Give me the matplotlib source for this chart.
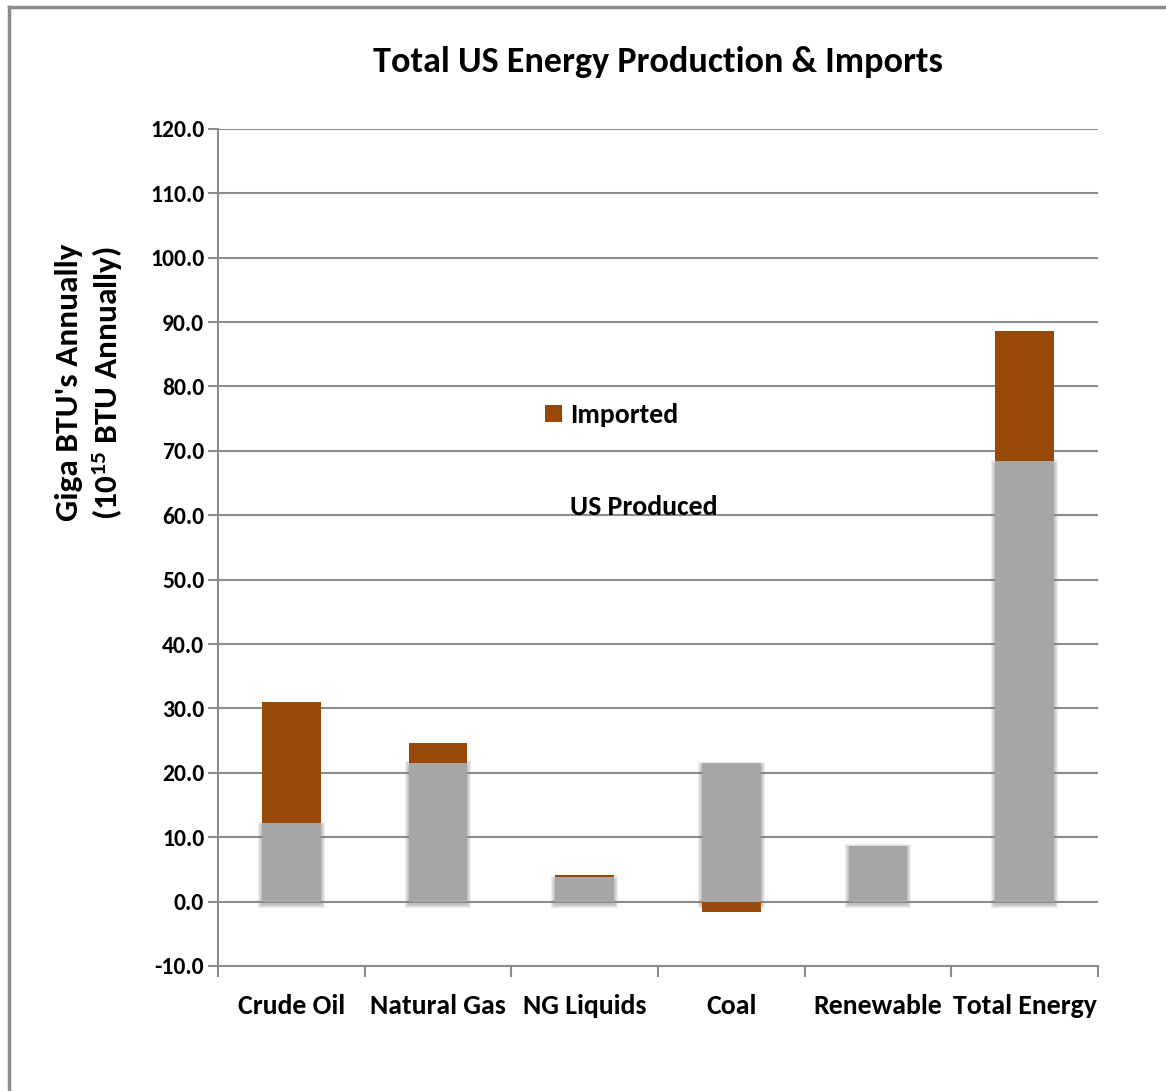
import matplotlib
matplotlib.use("Agg")
import matplotlib.pyplot as plt
from matplotlib.lines import Line2D
from matplotlib.patches import Patch
from matplotlib import font_manager

categories = ["Crude Oil", "Natural Gas", "NG Liquids", "Coal", "Renewable", "Total Energy"]
us_produced = [12.2, 21.6, 3.8, 21.5, 8.7, 68.4]
imported = [18.8, 3.0, 0.3, -1.6, 0.0, 20.2]

names = {f.name for f in font_manager.fontManager.ttflist}
prefs = ["Carlito", "Open Sans Condensed", "Roboto Condensed", "PT Sans Narrow",
         "Archivo Narrow", "Liberation Sans"]
family = next((p for p in prefs if p in names), "DejaVu Sans")
plt.rcParams["font.family"] = [family, "DejaVu Sans"]
plt.rcParams["font.weight"] = "bold"
plt.rcParams["mathtext.default"] = "regular"

GRAY = "#a6a6a6"
BROWN = "#984807"
GRID = "#8c8c8c"

fig = plt.figure(figsize=(11.66, 10.91), dpi=100)
ax = fig.add_axes([0.187, 0.1146, 0.7547, 0.7672])

x = list(range(len(categories)))
w = 0.4
px_x = 0.0068   # one pixel in x data units
px_y = 0.155    # one pixel in y data units

# feathered edges around the produced bars
for k in range(4, 0, -1):
    ax.bar(x, [v + 2 * k * px_y for v in us_produced], width=w + 2 * k * px_x,
           bottom=-k * px_y - 0.4, color="#808080", alpha=0.14, linewidth=0, zorder=2)
ax.bar(x, us_produced, width=w, color=GRAY, linewidth=0, zorder=3)

# imported stacks on top; negative imports hang below zero
bottoms = [p if v >= 0 else 0 for p, v in zip(us_produced, imported)]
ax.bar(x, imported, width=w, bottom=bottoms, color=BROWN, linewidth=0, zorder=4)

ax.set_ylim(-10, 120)
ax.set_xlim(-0.5, len(categories) - 0.5)
ax.set_yticks(range(-10, 121, 10))
ax.set_yticklabels([f"{v:.1f}" for v in range(-10, 121, 10)], fontsize=17)
ax.yaxis.grid(True, color=GRID, linewidth=1.5, zorder=1)
ax.set_axisbelow(True)

ax.set_xticks([i + 0.5 for i in range(-1, len(categories))])
ax.set_xticklabels([])
ax.set_xticks(x, minor=True)
ax.set_xticklabels(categories, minor=True, fontsize=20)
ax.tick_params(axis="x", which="minor", length=0, pad=20)
ax.tick_params(axis="x", which="major", length=8, color=GRID, width=1.5)
ax.tick_params(axis="y", length=7, color=GRID, width=1.5, pad=3)

for s in ["top", "right"]:
    ax.spines[s].set_visible(False)
for s in ["left", "bottom"]:
    ax.spines[s].set_color(GRID)
    ax.spines[s].set_linewidth(1.5)

ax.text(0.5, 1.080, "Total US Energy Production & Imports", transform=ax.transAxes,
        ha="center", va="center", fontsize=26, fontweight="bold")
ax.set_ylabel("Giga BTU's Annually\n(10$^{15}$ BTU Annually)", fontsize=24,
              fontweight="bold", labelpad=18, y=0.697, linespacing=1.25)

handles = [Patch(facecolor=BROWN), Line2D([], [], linestyle="none")]
leg = ax.legend(handles, ["Imported", "US Produced"], loc="center left",
                bbox_to_anchor=(0.3716, 0.603), frameon=False, fontsize=20,
                labelspacing=2.45, handlelength=0.6, handleheight=0.6,
                handletextpad=0.3, borderpad=0, borderaxespad=0)

# outer frame, top and left only
fig.add_artist(Line2D([0.0075, 1.0], [0.9935, 0.9935], color=GRID, linewidth=2.5))
fig.add_artist(Line2D([0.0075, 0.0075], [0.0, 0.9935], color=GRID, linewidth=2.5))

fig.savefig("out.png", dpi=100)
